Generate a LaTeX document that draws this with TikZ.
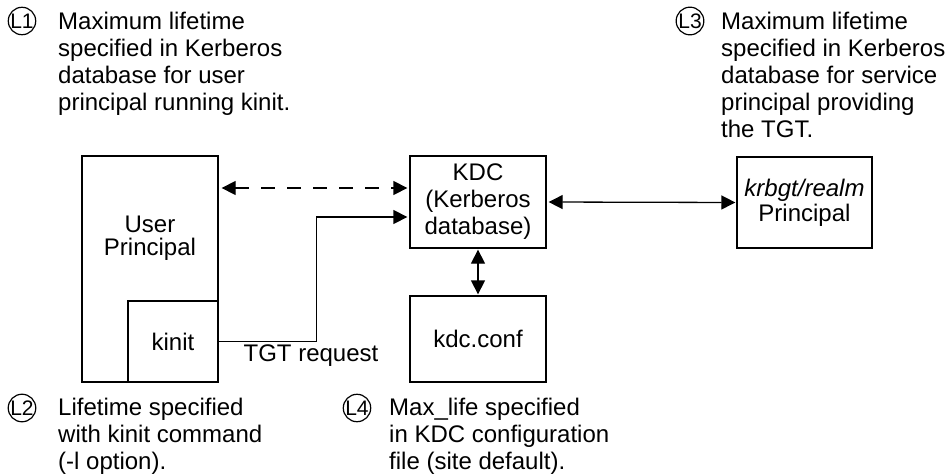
\documentclass[tikz,border=0pt]{standalone}
\usepackage{fontspec}
\setmainfont{Liberation Sans}
\usetikzlibrary{arrows.meta}
\newcommand{\tagtxt}[1]{\fontsize{21}{21}\selectfont #1}
\begin{document}
\begin{tikzpicture}[x=1pt,y=-1pt,
  box/.style={draw, line width=1.3pt, inner sep=0pt, align=center, font=\fontsize{24}{27}\selectfont},
  lbl/.style={inner sep=0pt, align=center, font=\fontsize{24}{27}\selectfont},
  note/.style={inner sep=0pt, align=left, anchor=north west, font=\fontsize{24}{27}\selectfont},
  ltag/.style={draw, circle, line width=1.2pt, minimum size=26pt, inner sep=0pt},
  tip/.tip={Triangle[length=14pt,width=14pt]},
  arr/.style={line width=1.3pt, tip-tip},
  onearr/.style={line width=1.3pt, -tip}]
\useasboundingbox (0,0) rectangle (946,474);

% boxes
\node[box, minimum width=136pt, minimum height=226pt] (user) at (150,269) {};
\node[lbl, font=\fontsize{24}{23.5}\selectfont] (usertxt) at (150,238) {User\\Principal};
\node[box, minimum width=90pt, minimum height=81pt] (kinit) at (173,341.5) {kinit};
\node[box, minimum width=136pt, minimum height=92pt] (kdc) at (478,202) {KDC\\(Kerberos\\database)};
\node[box, minimum width=136pt, minimum height=86pt] (conf) at (478,339) {kdc.conf};
\node[box, minimum width=135pt, minimum height=91pt, font=\fontsize{24}{25}\selectfont] (krb) at (804.5,202.5) {\textit{krbgt/realm}\\Principal};

% connectors
\draw[arr, dash pattern=on 14pt off 12pt, shorten <=3pt, shorten >=2pt] (user.east |- 0,188) -- (kdc.west |- 0,188);
\draw[onearr, shorten >=2pt] (kinit.east) -- ++(98,0) |- (kdc.west |- 0,217);
\node[lbl] (tgt) at (311,356) {TGT request};
\draw[arr, shorten <=1pt, shorten >=1pt] (kdc.south) -- (conf.north);
\draw[arr, shorten <=2pt, shorten >=1pt] (kdc.east) -- (krb.west);

% annotations
\node[ltag] (c1) at (22,21) {\tagtxt{L1}};
\node[note] (n1) at (58,12) {Maximum lifetime\\specified in Kerberos\\database for user\\principal running kinit.};
\node[ltag] (c3) at (690,21) {\tagtxt{L3}};
\node[note] (n3) at (721,12) {Maximum lifetime\\specified in Kerberos\\database for service\\principal providing\\the TGT.};
\node[ltag] (c2) at (22,408) {\tagtxt{L2}};
\node[note] (n2) at (58,398) {Lifetime specified\\with kinit command\\(-l option).};
\node[ltag] (c4) at (357,408) {\tagtxt{L4}};
\node[note] (n4) at (389,398) {Max\_life specified\\in KDC configuration\\file (site default).};
\end{tikzpicture}
\end{document}
